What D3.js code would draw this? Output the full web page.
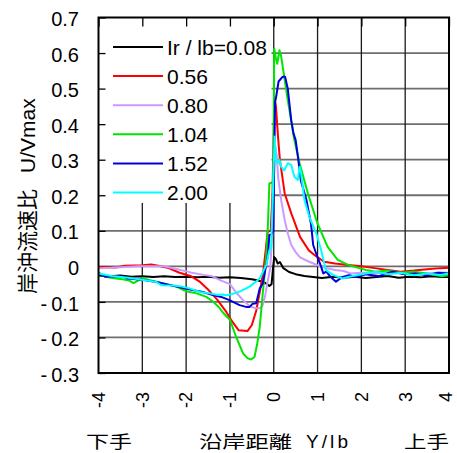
<!DOCTYPE html>
<html>
<head>
<meta charset="utf-8">
<script src="https://cdn.jsdelivr.net/npm/d3@7"></script>
<style>
  html, body { margin: 0; padding: 0; background: #fff; }
  svg { display: block; font-family: "Liberation Sans", Arial, "Noto Sans CJK JP", sans-serif; }
</style>
</head>
<body>
<svg id="chart" width="457" height="453"></svg>
<script>
// Longshore distance Y/lb and cross-shore velocity ratio U/Vmax for each Ir/lb
const seriesNames = ["Ir / lb=0.08", "0.56", "0.80", "1.04", "1.52", "2.00"];
const seriesColors = ["#000000", "#ff0000", "#cc99ff", "#00e600", "#0000dd", "#00ffff"];

const x008 = [-4,-3.75,-3.5,-3.25,-3,-2.75,-2.5,-2.25,-2,-1.75,-1.5,-1.25,-1,-0.75,-0.5,-0.35,-0.2,-0.1,-0.05,-0.02,0.01,0.05,0.09,0.14,0.22,0.35,0.5,0.7,0.9,1.1,1.35,1.6,1.85,2.1,2.35,2.6,2.85,3.1,3.35,3.6,3.85,4];
const u008 = [-0.026,-0.028,-0.026,-0.029,-0.028,-0.03,-0.028,-0.03,-0.029,-0.031,-0.029,-0.032,-0.031,-0.033,-0.036,-0.04,-0.046,-0.055,-0.05,-0.01,0.026,0.02,0.008,0.012,-0.005,-0.016,-0.022,-0.027,-0.03,-0.033,-0.029,-0.032,-0.029,-0.033,-0.03,-0.027,-0.032,-0.029,-0.031,-0.028,-0.03,-0.03];

const x056 = [-4,-3.6,-3.4,-3.0,-2.8,-2.6,-2.4,-2.15,-1.9,-1.7,-1.5,-1.3,-1.1,-0.95,-0.8,-0.6,-0.5,-0.4,-0.3,-0.24,-0.18,-0.14,-0.07,-0.03,0.0,0.015,0.05,0.1,0.14,0.25,0.4,0.6,0.8,0.95,1.15,1.4,1.7,2.0,2.3,2.6,2.9,3.2,3.5,3.8,4];
const u056 = [-0.002,-0.003,0.002,0.003,0.005,0.001,-0.005,-0.018,-0.027,-0.042,-0.065,-0.092,-0.125,-0.155,-0.18,-0.182,-0.165,-0.125,-0.06,-0.015,0.05,0.097,0.1,0.2,0.38,0.477,0.45,0.36,0.3,0.205,0.149,0.083,0.045,0.03,0.013,0.008,0.004,0.0,-0.005,-0.01,-0.015,-0.012,-0.008,-0.005,-0.004];

const x080 = [-4,-3.7,-3.4,-3.1,-2.8,-2.5,-2.2,-1.9,-1.6,-1.4,-1.2,-1.0,-0.85,-0.7,-0.55,-0.42,-0.32,-0.26,-0.2,-0.15,-0.08,-0.03,0.0,0.03,0.07,0.1,0.17,0.25,0.32,0.4,0.5,0.6,0.77,1.0,1.2,1.4,1.6,1.75,2.0,2.3,2.6,2.9,3.2,3.5,3.8,4];
const u080 = [-0.005,-0.004,-0.002,0.0,0.0,0.0,-0.008,-0.017,-0.024,-0.028,-0.04,-0.05,-0.075,-0.095,-0.112,-0.118,-0.118,-0.112,-0.085,-0.05,-0.005,0.1,0.25,0.34,0.31,0.25,0.186,0.13,0.093,0.06,0.04,0.025,0.015,0.003,-0.005,-0.01,-0.013,-0.02,-0.018,-0.02,-0.017,-0.02,-0.018,-0.02,-0.017,-0.018];

const x104 = [-4,-3.85,-3.6,-3.45,-3.3,-3.2,-3.1,-3.0,-2.85,-2.68,-2.45,-2.22,-2.0,-1.76,-1.54,-1.39,-1.25,-1.16,-1.0,-0.86,-0.7,-0.6,-0.52,-0.44,-0.38,-0.32,-0.25,-0.17,-0.135,-0.1,-0.05,-0.01,0.01,0.05,0.08,0.13,0.17,0.32,0.47,0.59,0.78,1.0,1.23,1.46,1.72,2.1,2.33,2.6,2.9,3.2,3.5,3.84,4];
const u104 = [-0.017,-0.029,-0.034,-0.036,-0.04,-0.047,-0.04,-0.033,-0.038,-0.043,-0.05,-0.057,-0.07,-0.076,-0.086,-0.099,-0.115,-0.13,-0.15,-0.198,-0.245,-0.258,-0.262,-0.255,-0.22,-0.17,-0.075,0.03,0.11,0.233,0.235,0.24,0.613,0.585,0.57,0.608,0.59,0.468,0.355,0.29,0.205,0.12,0.055,0.018,0.003,-0.01,-0.015,-0.012,-0.018,-0.015,-0.02,-0.028,-0.025];

const x152 = [-4,-3.85,-3.6,-3.44,-3.33,-3.0,-2.68,-2.4,-2.04,-1.8,-1.62,-1.39,-1.2,-1.01,-0.78,-0.63,-0.55,-0.48,-0.4,-0.32,-0.25,-0.2,-0.135,-0.1,-0.05,-0.01,0.03,0.055,0.11,0.2,0.26,0.32,0.4,0.45,0.5,0.55,0.62,0.74,0.85,0.9,1.0,1.08,1.13,1.2,1.3,1.42,1.57,1.72,1.87,2.1,2.4,2.71,3.0,3.24,3.5,3.75,4];
const u152 = [-0.02,-0.029,-0.028,-0.029,-0.034,-0.038,-0.044,-0.052,-0.062,-0.068,-0.072,-0.081,-0.086,-0.095,-0.109,-0.114,-0.114,-0.105,-0.104,-0.062,-0.048,-0.015,0.03,0.088,0.09,0.1,0.463,0.477,0.52,0.533,0.533,0.5,0.41,0.374,0.355,0.31,0.24,0.19,0.12,0.06,0.025,0.0,-0.02,-0.015,-0.03,-0.043,-0.03,-0.025,-0.03,-0.022,-0.028,-0.015,-0.022,-0.02,-0.025,-0.018,-0.02];

const x200 = [-4,-3.7,-3.32,-3.0,-2.68,-2.57,-2.3,-2.1,-1.92,-1.69,-1.46,-1.3,-1.16,-1.08,-0.95,-0.78,-0.55,-0.32,-0.17,-0.1,-0.06,-0.02,0.02,0.05,0.09,0.13,0.17,0.24,0.32,0.4,0.47,0.55,0.59,0.62,0.7,0.81,0.97,1.08,1.19,1.35,1.57,1.72,1.9,2.1,2.33,2.6,2.9,3.2,3.5,3.8,4];
const u200 = [-0.02,-0.027,-0.032,-0.038,-0.044,-0.053,-0.054,-0.057,-0.062,-0.072,-0.076,-0.08,-0.079,-0.081,-0.078,-0.071,-0.057,-0.034,0.004,0.046,0.05,0.2,0.365,0.3,0.29,0.3,0.28,0.27,0.29,0.285,0.252,0.243,0.28,0.265,0.187,0.14,0.093,0.046,-0.01,-0.024,-0.034,-0.029,-0.025,-0.02,-0.015,-0.022,-0.018,-0.025,-0.02,-0.024,-0.02];

const xTicks = [-4,-3,-2,-1,0,1,2,3,4];
const yTicks = [-0.3,-0.2,-0.1,0,0.1,0.2,0.3,0.4,0.5,0.6,0.7];

const seriesX = [x008, x056, x080, x104, x152, x200];
const seriesU = [u008, u056, u080, u104, u152, u200];

const svg = d3.select("#chart");
const plot = { left: 98.5, right: 449, top: 17.5, bottom: 373 };

const x = d3.scaleLinear().domain([-4, 4]).range([plot.left, plot.right]);
const y = d3.scaleLinear().domain([-0.3, 0.7]).range([plot.bottom, plot.top]);

// grid
const grid = svg.append("g");
grid.selectAll("line.h").data(yTicks.slice(1, -1)).join("line")
  .attr("x1", plot.left).attr("x2", plot.right)
  .attr("y1", d => y(d)).attr("y2", d => y(d))
  .attr("stroke", "#6e6e6e").attr("stroke-width", 1.8);
grid.selectAll("line.v").data(xTicks.slice(1, -1)).join("line")
  .attr("x1", d => x(d)).attr("x2", d => x(d))
  .attr("y1", plot.top).attr("y2", plot.bottom)
  .attr("stroke", "#1a1a1a").attr("stroke-width", 1.3);

// legend background covers the grid in the upper-left corner
svg.append("rect")
  .attr("x", plot.left).attr("y", plot.top)
  .attr("width", 173).attr("height", 185.5)
  .attr("fill", "#fff");

// axes ticks drawn inward
const axLeft = d3.axisLeft(y).tickValues(yTicks).tickSize(-7).tickFormat("");
const axTop = d3.axisTop(x).tickValues(xTicks).tickSize(-9).tickFormat("");
svg.append("g").attr("transform", `translate(${plot.left},0)`).call(axLeft)
  .call(g => g.select(".domain").remove())
  .selectAll("line").attr("stroke", "#000").attr("stroke-width", 1.3);
svg.append("g").attr("transform", `translate(0,${plot.top})`).call(axTop)
  .call(g => g.select(".domain").remove())
  .selectAll("line").attr("stroke", "#000").attr("stroke-width", 1.3);

// data lines
const line = d3.line().x(d => x(d[0])).y(d => y(d[1]));
seriesNames.forEach((name, i) => {
  const pts = seriesX[i].map((v, k) => [v, seriesU[i][k]]);
  svg.append("path")
    .datum(pts)
    .attr("d", line)
    .attr("fill", "none")
    .attr("stroke", seriesColors[i])
    .attr("stroke-width", 2)
    .attr("stroke-linejoin", "round");
});

// frame
svg.append("rect")
  .attr("x", plot.left).attr("y", plot.top)
  .attr("width", plot.right - plot.left).attr("height", plot.bottom - plot.top)
  .attr("fill", "none").attr("stroke", "#000").attr("stroke-width", 2);

// y tick labels
svg.append("g").selectAll("text").data(yTicks).join("text")
  .attr("x", 79).attr("y", d => y(d)).attr("dy", "0.43em")
  .attr("text-anchor", "end").attr("font-size", 20).attr("fill", "#000")
  .text(d => d < 0 ? "-\u2009" + d3.format(".1f")(-d) : (d === 0 ? "0" : d3.format(".1f")(d)));

// x tick labels, rotated (the last one is nudged to stay inside the canvas)
svg.append("g").selectAll("text").data(xTicks).join("text")
  .attr("transform", d => `translate(${Math.min(x(d), 446)},392) rotate(-90)`)
  .attr("dy", "0.35em")
  .attr("text-anchor", "end").attr("font-size", 18).attr("fill", "#000")
  .text(d => String(d));

// legend
const leg = svg.append("g");
seriesNames.forEach((name, i) => {
  const ly = 47 + i * 29.1;
  leg.append("line").attr("x1", 113).attr("x2", 163).attr("y1", ly).attr("y2", ly)
    .attr("stroke", seriesColors[i]).attr("stroke-width", 2);
  leg.append("text").attr("x", 167).attr("y", ly).attr("dy", "0.36em")
    .attr("font-size", 21).attr("fill", "#000").text(name);
});

// axis titles (bottom row is set in a wide, low face)
const titles = svg.append("g").attr("fill", "#000");
const bottomTitles = [
  { t: "下手", x0: 86, w: 46, fs: 17, adj: "spacingAndGlyphs" },
  { t: "沿岸距離", x0: 199, w: 93, fs: 17, adj: "spacingAndGlyphs" },
  { t: "Y/lb", x0: 306, w: 42, fs: 19, adj: "spacing" },
  { t: "上手", x0: 404, w: 45, fs: 17, adj: "spacingAndGlyphs" }
];
bottomTitles.forEach(b => {
  titles.append("text").attr("x", b.x0).attr("y", 447.5)
    .attr("font-size", b.fs)
    .attr("textLength", b.w).attr("lengthAdjust", b.adj)
    .text(b.t);
});

titles.append("text").attr("transform", "translate(35,294) rotate(-90)")
  .attr("font-size", 21).text("岸沖流速比");
titles.append("text").attr("transform", "translate(35,173) rotate(-90)")
  .attr("font-size", 21).text("U/Vmax");
</script>
</body>
</html>
